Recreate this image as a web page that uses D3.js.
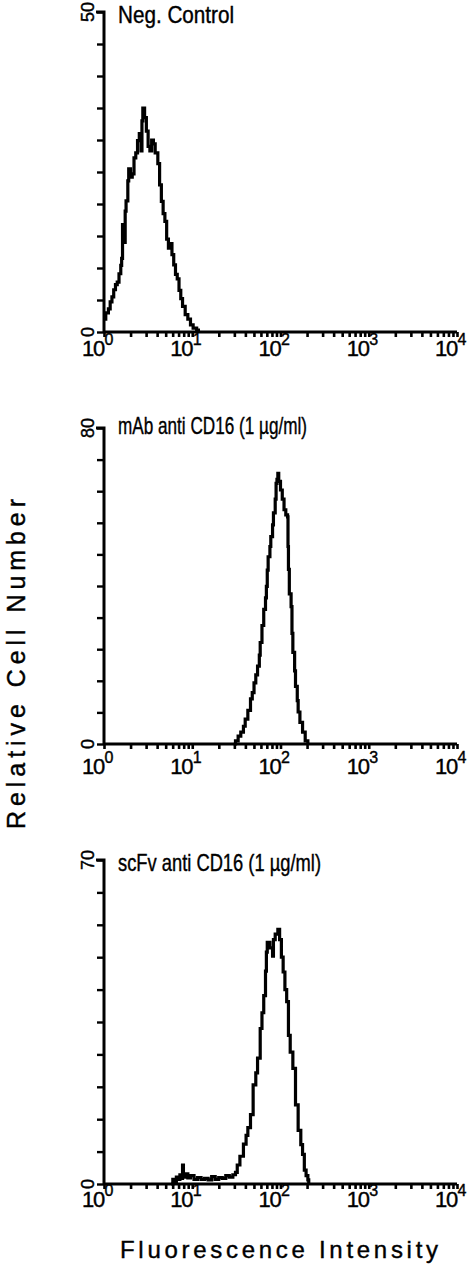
<!DOCTYPE html>
<html>
<head>
<meta charset="utf-8">
<script src="https://cdn.jsdelivr.net/npm/d3@7"></script>
<style>
  body { margin: 0; background: #fff; }
  svg { display: block; }
  text { font-family: "Liberation Sans", Arial, sans-serif; fill: #000; stroke: #000; stroke-width: 0.4; }
</style>
</head>
<body>
<svg id="chart" width="476" height="1280"></svg>
<script>
// panel titles and y maxima
const titles = ["Neg. Control", "mAb anti CD16 (1 \u00b5g/ml)", "scFv anti CD16 (1 \u00b5g/ml)"];
const yMaxes = [50, 80, 70];
const decades = [0, 1, 2, 3, 4];

// histogram: log10 fluorescence vs. relative cell number
const logX1 = [0.00, 0.02, 0.05, 0.07, 0.09, 0.11, 0.13, 0.15, 0.17, 0.19, 0.20, 0.21, 0.22, 0.24, 0.25, 0.27, 0.28, 0.30, 0.32, 0.34, 0.36, 0.38, 0.40, 0.42, 0.43, 0.44, 0.46, 0.48, 0.50, 0.52, 0.54, 0.56, 0.58, 0.61, 0.63, 0.65, 0.67, 0.69, 0.71, 0.73, 0.75, 0.77, 0.79, 0.81, 0.83, 0.85, 0.87, 0.89, 0.92, 0.95, 0.98, 1.01, 1.05, 1.07];
const counts1 = [2.0, 3.0, 3.6, 4.7, 5.5, 6.6, 7.4, 7.8, 9.1, 10.4, 11.5, 16.8, 14.0, 18.9, 20.5, 23.6, 25.5, 24.2, 24.7, 27.2, 28.0, 29.9, 31.0, 28.3, 33.0, 35.0, 33.5, 31.4, 29.0, 28.3, 30.0, 29.4, 28.0, 26.3, 23.0, 20.4, 18.5, 17.3, 14.5, 13.1, 13.8, 12.1, 10.5, 9.0, 8.3, 6.5, 5.2, 4.0, 2.7, 2.0, 1.1, 0.6, 0.3, 0];

const logX2 = [1.47, 1.49, 1.52, 1.55, 1.58, 1.60, 1.63, 1.66, 1.68, 1.70, 1.72, 1.74, 1.76, 1.77, 1.79, 1.81, 1.83, 1.84, 1.85, 1.86, 1.88, 1.89, 1.91, 1.92, 1.94, 1.95, 1.96, 1.97, 1.98, 2.00, 2.02, 2.04, 2.06, 2.08, 2.085, 2.09, 2.10, 2.12, 2.13, 2.14, 2.16, 2.17, 2.19, 2.20, 2.22, 2.25, 2.28, 2.31];
const counts2 = [0, 0.8, 2.0, 3.0, 4.5, 6.3, 8.5, 11.4, 13.0, 15.5, 17.5, 19.7, 22.5, 25.7, 30.0, 34.1, 37.0, 39.9, 44.0, 47.4, 50.0, 52.5, 55.5, 58.5, 62.0, 66.0, 67.0, 68.5, 66.5, 64.3, 62.0, 59.3, 58.0, 57.5, 50.0, 44.2, 38.0, 34.8, 28.0, 23.2, 18.5, 14.6, 11.0, 8.1, 5.5, 3.0, 0.8, 0];

const logX3 = [0.76, 0.78, 0.80, 0.82, 0.84, 0.86, 0.88, 0.89, 0.90, 0.92, 0.95, 0.98, 1.02, 1.06, 1.10, 1.14, 1.18, 1.22, 1.26, 1.30, 1.34, 1.38, 1.42, 1.46, 1.49, 1.51, 1.54, 1.58, 1.61, 1.63, 1.66, 1.69, 1.72, 1.74, 1.77, 1.79, 1.81, 1.83, 1.84, 1.85, 1.88, 1.91, 1.92, 1.94, 1.97, 1.99, 2.01, 2.03, 2.05, 2.07, 2.09, 2.11, 2.14, 2.17, 2.20, 2.23, 2.25, 2.27, 2.29, 2.31, 2.32];
const counts3 = [0, 1.0, 0.5, 1.5, 1.0, 2.0, 1.2, 4.1, 1.5, 2.2, 1.3, 1.8, 1.0, 1.4, 1.0, 1.2, 0.9, 1.6, 1.0, 1.4, 1.2, 1.8, 1.5, 2.0, 2.5, 4.1, 6.0, 8.6, 10.5, 12.2, 15.0, 21.4, 24.0, 27.2, 33.6, 37.0, 40.7, 46.0, 50.1, 52.2, 51.0, 49.2, 52.8, 54.0, 55.0, 52.8, 49.0, 45.8, 42.0, 39.4, 32.1, 28.5, 25.0, 17.1, 11.6, 8.5, 6.4, 3.0, 1.8, 0.9, 0];

const series = [[logX1, counts1], [logX2, counts2], [logX3, counts3]];

// layout
const panels = [
    { top: 12, zero: 332, titleY: 23, titleLen: 116, labelDy: 24 },
    { top: 428, zero: 744, titleY: 434, titleLen: 189, labelDy: 30 },
    { top: 860, zero: 1184, titleY: 871, titleLen: 203, labelDy: 23 }
];
const xLeft = 104, xRight = 457;

const svg = d3.select("#chart");

const x = d3.scaleLog().domain([1, 1e4]).range([xLeft, xRight]);

const minorTicks = [];
decades.slice(0, 4).forEach(d => {
    for (let k = 1; k < 10; k++) minorTicks.push(k * Math.pow(10, d));
});
minorTicks.push(1e4);

panels.forEach((p, i) => {
    const yMax = yMaxes[i];
    const y = d3.scaleLinear().domain([0, yMax]).range([p.zero, p.top]);
    const g = svg.append("g");

    // y axis
    const yAxis = d3.axisLeft(y)
        .tickValues(d3.range(0, 11).map(k => k * yMax / 10))
        .tickSize(7)
        .tickFormat("");
    g.append("g")
        .attr("transform", `translate(${xLeft},0)`)
        .call(yAxis)
        .call(a => a.select(".domain").attr("stroke-width", 3).attr("d", `M-8,${p.top}H0V${p.zero}`))
        .call(a => a.selectAll(".tick line").attr("stroke-width", 2.4));

    [0, yMax].forEach(v => {
        g.append("text")
            .attr("transform", `translate(${xLeft - 10},${y(v)}) rotate(-90)`)
            .attr("text-anchor", "middle")
            .attr("font-size", 18)
            .text(v);
    });

    // x axis
    const xAxis = d3.axisBottom(x)
        .tickValues(minorTicks)
        .tickSize(5)
        .tickFormat("");
    g.append("g")
        .attr("transform", `translate(0,${p.zero})`)
        .call(xAxis)
        .call(a => a.select(".domain").attr("stroke-width", 3).attr("d", `M${xLeft},0H${xRight}`))
        .call(a => a.selectAll(".tick line").attr("stroke-width", 2.6));

    decades.forEach(d => {
        g.append("text")
            .attr("x", x(Math.pow(10, d)))
            .attr("y", p.zero + p.labelDy)
            .attr("font-size", 22)
            .attr("letter-spacing", -1.2)
            .attr("text-anchor", "end")
            .text("10");
        g.append("text")
            .attr("x", x(Math.pow(10, d)) + 0.5)
            .attr("y", p.zero + p.labelDy - 11)
            .attr("font-size", 16)
            .text(d);
    });

    // title
    g.append("text")
        .attr("x", 118)
        .attr("y", p.titleY)
        .attr("font-size", 24)
        .attr("textLength", p.titleLen)
        .attr("lengthAdjust", "spacingAndGlyphs")
        .text(titles[i]);

    // histogram
    const [lx, cnt] = series[i];
    const pts = lx.map((v, j) => [Math.pow(10, v), cnt[j]]);
    const line = d3.line()
        .x(d => x(d[0]))
        .y(d => y(d[1]))
        .curve(d3.curveStepAfter);
    g.append("path")
        .datum(pts)
        .attr("fill", "none")
        .attr("stroke", "#000")
        .attr("stroke-width", 3.2)
        .attr("stroke-linejoin", "miter")
        .attr("d", line);
});

// axis titles
svg.append("text")
    .attr("transform", "translate(25,664) rotate(-90)")
    .attr("text-anchor", "middle")
    .attr("font-size", 25)
    .attr("textLength", 330)
    .attr("lengthAdjust", "spacing")
    .text("Relative Cell Number");

svg.append("text")
    .attr("x", 279)
    .attr("y", 1258)
    .attr("text-anchor", "middle")
    .attr("font-size", 24)
    .attr("textLength", 318)
    .attr("lengthAdjust", "spacing")
    .text("Fluorescence Intensity");
</script>
</body>
</html>
